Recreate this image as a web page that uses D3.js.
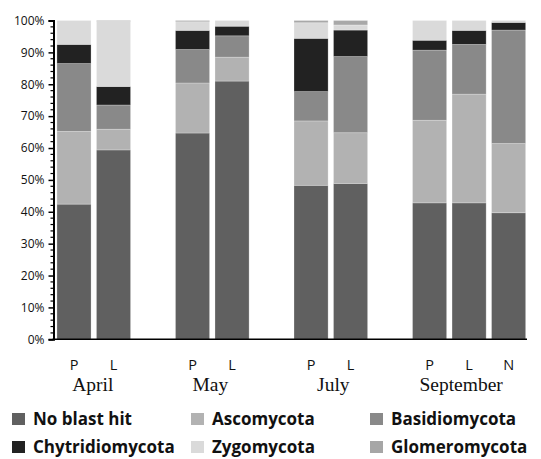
<!DOCTYPE html>
<html><head><meta charset="utf-8">
<script src="https://cdn.jsdelivr.net/npm/d3@7"></script>
<style>body{margin:0;background:#fff}svg{display:block}</style>
</head><body>
<script>
// ---- data ----
const months = ["April", "May", "July", "September"];
const samples = [
  {month: "April", label: "P"}, {month: "April", label: "L"},
  {month: "May", label: "P"}, {month: "May", label: "L"},
  {month: "July", label: "P"}, {month: "July", label: "L"},
  {month: "September", label: "P"}, {month: "September", label: "L"}, {month: "September", label: "N"}
];
const seriesNames = ["No blast hit", "Ascomycota", "Basidiomycota", "Chytridiomycota", "Zygomycota", "Glomeromycota"];
const noBlastHit      = [42.4, 59.4, 64.7, 81.0, 48.3, 48.9, 42.8, 42.8, 39.7];
const ascomycota      = [22.8,  6.5, 15.7,  7.5, 20.2, 15.9, 25.9, 34.1, 21.7];
const basidiomycota   = [21.3,  7.6, 10.5,  6.7,  9.2, 23.9, 22.0, 15.6, 35.6];
const chytridiomycota = [ 6.0,  5.8,  6.0,  3.0, 16.7,  8.3,  3.1,  4.4,  2.4];
const zygomycota      = [ 7.5, 20.4,  2.7,  1.8,  4.9,  1.6,  6.2,  3.1,  0.6];
const glomeromycota   = [ 0.0,  0.3,  0.4,  0.0,  0.7,  1.4,  0.0,  0.0,  0.0];
const yTicks = [0, 10, 20, 30, 40, 50, 60, 70, 80, 90, 100];
const colors = ["#606060", "#b2b2b2", "#898989", "#222222", "#dadada", "#a8a8a8"];

const seriesValues = [noBlastHit, ascomycota, basidiomycota, chytridiomycota, zygomycota, glomeromycota];
const rows = samples.map((s, i) => {
  const r = {key: s.month + "-" + s.label, month: s.month, label: s.label};
  seriesNames.forEach((n, j) => r[n] = seriesValues[j][i]);
  return r;
});

// slot domain with gaps between months
const slots = [];
months.forEach((m, mi) => {
  if (mi > 0) slots.push("gap" + mi);
  samples.filter(s => s.month === m).forEach(s => slots.push(m + "-" + s.label));
});

const W = 541, H = 459;
const svg = d3.select("body").append("svg").attr("width", W).attr("height", H);

const x = d3.scaleBand().domain(slots).range([53, 529.6]).paddingInner(0.137).paddingOuter(0.1);
const y = d3.scaleLinear().domain([0, 100]).range([339.3, 20.5]);

const stacked = d3.stack().keys(seriesNames)(rows);

svg.append("g").selectAll("g.series").data(stacked).join("g")
  .attr("fill", (d, i) => colors[i])
  .selectAll("rect").data(d => d).join("rect")
  .attr("x", d => x(d.data.key))
  .attr("width", x.bandwidth())
  .attr("y", d => y(d[1]))
  .attr("height", d => Math.max(0, y(d[0]) - y(d[1])))
  .attr("stroke", "rgba(255,255,255,0.3)")
  .attr("stroke-width", 0.8);

// y axis
const axisX = 53.5;
const yAxis = svg.append("g").attr("transform", `translate(${axisX},0)`)
  .call(d3.axisLeft(y).tickValues(yTicks).tickFormat(d => d + "%").tickSize(5).tickPadding(4));
yAxis.select(".domain").attr("stroke-width", 2).attr("stroke", "#000");
yAxis.selectAll(".tick line").attr("stroke-width", 1.5);
yAxis.selectAll(".tick text").attr("font-family", "Open Sans").attr("font-size", 12).attr("fill", "#111");
// minor ticks
const minor = d3.range(0, 101, 2).filter(v => v % 10 !== 0);
svg.append("g").selectAll("line").data(minor).join("line")
  .attr("x1", axisX - 3).attr("x2", axisX)
  .attr("y1", d => y(d)).attr("y2", d => y(d))
  .attr("stroke", "#000").attr("stroke-width", 1.2);

// x axis baseline
svg.append("line").attr("x1", axisX - 1).attr("x2", 527).attr("y1", y(0)).attr("y2", y(0))
  .attr("stroke", "#000").attr("stroke-width", 1.5);

// sample labels
svg.append("g").selectAll("text").data(rows).join("text")
  .attr("x", d => x(d.key) + x.bandwidth() / 2)
  .attr("y", 369.5)
  .attr("text-anchor", "middle")
  .attr("font-family", "Open Sans").attr("font-size", 14.5).attr("fill", "#111")
  .text(d => d.label);

// month labels
const monthDx = {April: -1, May: -2, July: 2.5, September: -8};
svg.append("g").selectAll("text").data(months).join("text")
  .attr("x", m => {
    const ks = rows.filter(r => r.month === m).map(r => x(r.key) + x.bandwidth() / 2);
    return d3.mean(ks) + monthDx[m];
  })
  .attr("y", 391)
  .attr("text-anchor", "middle")
  .attr("font-family", "Liberation Serif").attr("font-size", 19.5).attr("fill", "#111")
  .text(m => m);

// legend
const legCols = [12, 191, 370];
const legRows = [413, 441];
const leg = svg.append("g").selectAll("g").data(seriesNames).join("g")
  .attr("transform", (d, i) => `translate(${legCols[i % 3]},${legRows[Math.floor(i / 3)]})`);
leg.append("rect").attr("width", 13).attr("height", 12).attr("fill", (d, i) => i === 5 ? "#a6a6a6" : colors[i]);
leg.append("text").attr("x", 21).attr("y", 12.2)
  .attr("font-family", "Open Sans").attr("font-weight", "bold").attr("font-size", 17).attr("fill", "#111")
  .text(d => d);
</script>
</body></html>
